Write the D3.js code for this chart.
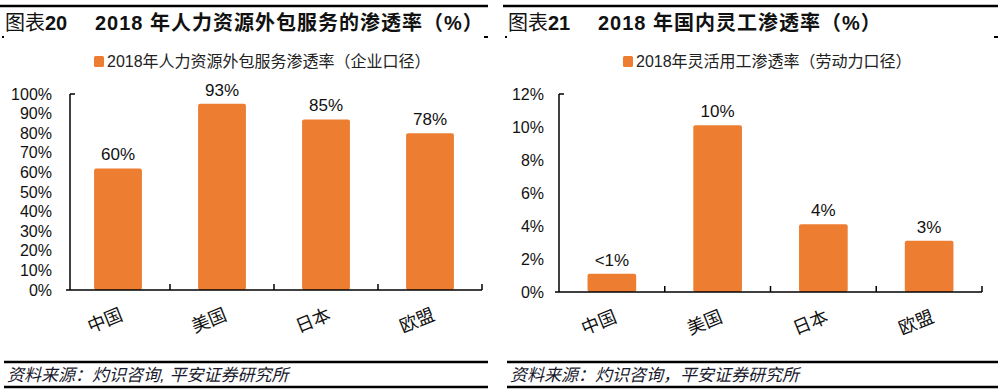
<!DOCTYPE html>
<html>
<head>
<meta charset="utf-8">
<script src="https://cdn.jsdelivr.net/npm/d3@7/dist/d3.min.js"></script>
<style>
  body { margin: 0; background: #fff; }
  svg { display: block; font-family: "Liberation Sans", Arial, "Noto Sans CJK SC", sans-serif; }
  .cjk { font-family: "Liberation Sans", "Noto Sans CJK SC", sans-serif; }
</style>
</head>
<body>
<div id="chart"></div>
<script>
// categories shared by both charts
const regions = ["中国", "美国", "日本", "欧盟"];

// chart 20: HR outsourcing penetration (bar heights, labels as printed)
const outsourcingValues = [62, 95, 87, 80];
const outsourcingLabels = ["60%", "93%", "85%", "78%"];
const outsourcingTicks = [0, 10, 20, 30, 40, 50, 60, 70, 80, 90, 100];

// chart 21: flexible employment penetration
const flexValues = [1.1, 10.1, 4.1, 3.1];
const flexLabels = ["<1%", "10%", "4%", "3%"];
const flexTicks = [0, 2, 4, 6, 8, 10, 12];

const orange = "#ED7D31";

const svg = d3.select("#chart")
    .append("svg")
    .attr("width", 1003)
    .attr("height", 389);

function drawPanel(cfg) {
    const g = svg.append("g");

    // header rule + title
    g.append("line")
        .attr("x1", cfg.left).attr("x2", cfg.right)
        .attr("y1", 6).attr("y2", 6)
        .attr("stroke", "#000").attr("stroke-width", 2.5);

    const title = g.append("text")
        .attr("x", cfg.left + 5)
        .attr("y", 30)
        .attr("class", "cjk")
        .style("font-size", "20px")
        .attr("fill", "#111");
    title.append("tspan").text("图表");
    title.append("tspan").style("font-weight", "bold").text(cfg.num);
    title.append("tspan")
        .attr("x", cfg.left + 95)
        .style("font-weight", "bold")
        .style("letter-spacing", "1px")
        .text(cfg.title);

    // little marks under title
    g.append("line").attr("x1", cfg.left + 2).attr("x2", cfg.left + 4).attr("y1", 37).attr("y2", 37)
        .attr("stroke", "#000").attr("stroke-width", 2);
    g.append("line").attr("x1", cfg.right - 4).attr("x2", cfg.right).attr("y1", 37).attr("y2", 37)
        .attr("stroke", "#000").attr("stroke-width", 2);

    // legend
    g.append("rect")
        .attr("x", cfg.legendX).attr("y", 56)
        .attr("width", 10).attr("height", 11)
        .attr("rx", 1.5)
        .attr("fill", orange);
    g.append("text")
        .attr("x", cfg.legendX + 13)
        .attr("y", 67)
        .attr("class", "cjk")
        .style("font-size", "16px")
        .attr("fill", "#222")
        .text(cfg.legend);

    const x = d3.scaleBand()
        .domain(regions)
        .range([cfg.x0, cfg.x1])
        .padding(0);

    const y = d3.scaleLinear()
        .domain([0, cfg.yMax])
        .range([cfg.base, cfg.top]);

    // y tick labels
    g.append("g")
        .attr("transform", `translate(${cfg.axisX},0)`)
        .call(d3.axisLeft(y).tickValues(cfg.ticks).tickSize(0).tickPadding(cfg.tickPad).tickFormat(d => d + "%"))
        .call(a => a.select(".domain").remove())
        .selectAll("text")
        .style("font-size", "16px")
        .attr("fill", "#111");

    // bars
    const bw = x.bandwidth() * 0.46;
    g.selectAll("rect.bar")
        .data(regions.map((r, i) => ({ r, v: cfg.values[i], label: cfg.labels[i] })))
        .join("rect")
        .attr("class", "bar")
        .attr("x", d => x(d.r) + (x.bandwidth() - bw) / 2)
        .attr("y", d => y(d.v))
        .attr("width", bw)
        .attr("height", d => cfg.base - y(d.v))
        .attr("rx", 2)
        .attr("fill", orange);

    // value labels
    g.selectAll("text.val")
        .data(regions.map((r, i) => ({ r, v: cfg.values[i], label: cfg.labels[i] })))
        .join("text")
        .attr("class", "val")
        .attr("x", d => x(d.r) + x.bandwidth() / 2)
        .attr("y", d => y(d.v) - 8)
        .attr("text-anchor", "middle")
        .style("font-size", "17px")
        .attr("fill", "#111")
        .text(d => d.label);

    // axes lines
    g.append("line")
        .attr("x1", cfg.axisX).attr("x2", cfg.axisX)
        .attr("y1", cfg.top).attr("y2", cfg.base)
        .attr("stroke", "#000").attr("stroke-width", 1.5);
    g.append("line")
        .attr("x1", cfg.axisX).attr("x2", cfg.axisX + 5)
        .attr("y1", cfg.top).attr("y2", cfg.top)
        .attr("stroke", "#000").attr("stroke-width", 1.5);
    g.append("line")
        .attr("x1", cfg.axisX - 4).attr("x2", cfg.x1)
        .attr("y1", cfg.base).attr("y2", cfg.base)
        .attr("stroke", "#000").attr("stroke-width", 1.5);

    const bounds = regions.slice(1).map(r => x(r)).concat([cfg.x1]);
    g.selectAll("line.tick")
        .data(bounds)
        .join("line")
        .attr("class", "tick")
        .attr("x1", d => d).attr("x2", d => d)
        .attr("y1", cfg.base - 6).attr("y2", cfg.base)
        .attr("stroke", "#000").attr("stroke-width", 1.5);

    // category labels, rotated
    g.selectAll("text.cat")
        .data(regions)
        .join("text")
        .attr("class", "cat cjk")
        .attr("transform", d => `translate(${x(d) + x.bandwidth() / 2 + 1},${cfg.base + 17}) rotate(-22)`)
        .attr("text-anchor", "end")
        .attr("dy", "0.75em")
        .style("font-size", "18px")
        .attr("fill", "#111")
        .text(d => d);

    // footer
    g.append("line")
        .attr("x1", cfg.left + 4).attr("x2", cfg.right)
        .attr("y1", 362).attr("y2", 362)
        .attr("stroke", "#000").attr("stroke-width", 2.5);
    g.append("text")
        .attr("x", cfg.left + 7)
        .attr("y", 381)
        .attr("class", "cjk")
        .style("font-size", "17px")
        .style("font-style", "italic")
        .attr("fill", "#1a1a2e")
        .text(cfg.source);
    g.append("line")
        .attr("x1", cfg.left + 4).attr("x2", cfg.right)
        .attr("y1", 387).attr("y2", 387)
        .attr("stroke", "#000").attr("stroke-width", 2.5);
}

drawPanel({
    left: 0, right: 488,
    num: "20", title: "2018 年人力资源外包服务的渗透率（%）",
    legendX: 94, legend: "2018年人力资源外包服务渗透率（企业口径）",
    x0: 66, x1: 482, axisX: 70, base: 290, top: 94, yMax: 100, tickPad: 18,
    ticks: outsourcingTicks, values: outsourcingValues, labels: outsourcingLabels,
    source: "资料来源：灼识咨询, 平安证券研究所"
});

drawPanel({
    left: 503, right: 998,
    num: "21", title: "2018 年国内灵工渗透率（%）",
    legendX: 623, legend: "2018年灵活用工渗透率（劳动力口径）",
    x0: 559, x1: 982, axisX: 559, base: 292, top: 94, yMax: 12, tickPad: 15,
    ticks: flexTicks, values: flexValues, labels: flexLabels,
    source: "资料来源：灼识咨询，平安证券研究所"
});
</script>
</body>
</html>
